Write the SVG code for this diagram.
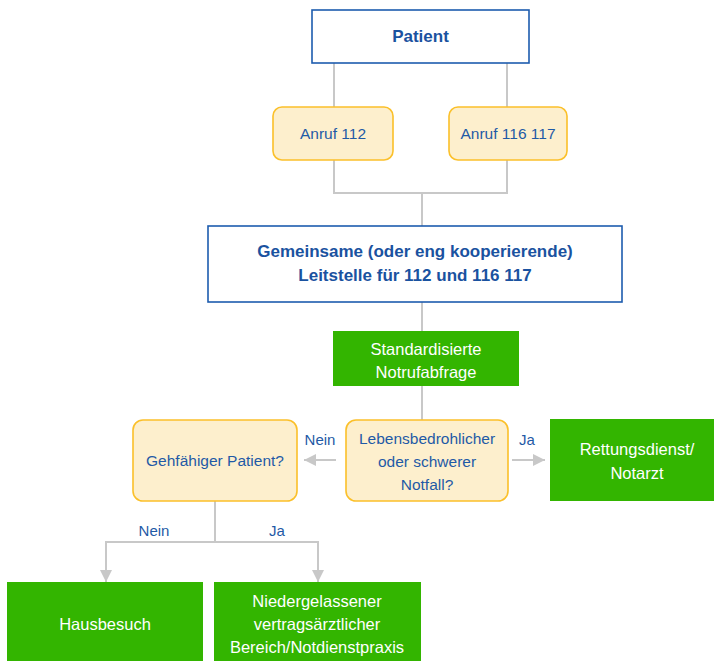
<svg xmlns="http://www.w3.org/2000/svg" width="714" height="661" viewBox="0 0 714 661">
<defs>
<style>
text{font-family:"Liberation Sans",Arial,sans-serif;text-anchor:middle}
.blue{fill:#fff;stroke:#1d5cae;stroke-width:1.6}
.bt{fill:#1a52a0;font-size:17px;font-weight:bold}
.q{fill:#fdefcd;stroke:#fbc02a;stroke-width:1.6}
.qt{fill:#1f5aa6;font-size:15.5px}
.g{fill:#33b500}
.gt{fill:#fff;font-size:16.5px}
.lbl{fill:#1f5aa6;font-size:15px}
.c{fill:none;stroke:#c8c8c8;stroke-width:2}
</style>
<marker id="ah" viewBox="0 0 10 10" refX="10" refY="5" markerWidth="6" markerHeight="6" markerUnits="strokeWidth" orient="auto">
<path d="M0,0 L10,5 L0,10 z" fill="#c8c8c8"/>
</marker>
</defs>
<rect width="714" height="661" fill="#fff"/>
<g id="connectors">
<path class="c" d="M334,63 V107 M507,63 V107"/>
<path class="c" d="M334,160 V193 H507 V160 M422,193 V227"/>
<path class="c" d="M422,302 V331 M422,386 V420"/>
<path class="c" d="M336,460 H304" marker-end="url(#ah)"/>
<path class="c" d="M512,460 H545" marker-end="url(#ah)"/>
<path class="c" d="M215,501 V542 H106 V582" marker-end="url(#ah)"/>
<path class="c" d="M215,542 H318 V582" marker-end="url(#ah)"/>
<text class="lbl" x="320" y="445">Nein</text>
<text class="lbl" x="527" y="445">Ja</text>
<text class="lbl" x="154" y="536">Nein</text>
<text class="lbl" x="277" y="536">Ja</text>
</g>
<g id="patient">
<rect class="blue" x="312" y="10" width="217" height="53"/>
<text class="bt" x="420.5" y="42">Patient</text>
</g>
<g id="anruf112">
<rect class="q" x="273" y="107" width="120" height="53" rx="9"/>
<text class="qt" x="333" y="139">Anruf 112</text>
</g>
<g id="anruf116117">
<rect class="q" x="449" y="107" width="118" height="53" rx="9"/>
<text class="qt" x="508" y="139">Anruf 116 117</text>
</g>
<g id="leitstelle">
<rect class="blue" x="208" y="226" width="414" height="76"/>
<text class="bt" x="415" y="257">Gemeinsame (oder eng kooperierende)</text>
<text class="bt" x="415" y="281">Leitstelle für 112 und 116 117</text>
</g>
<g id="notrufabfrage">
<rect class="g" x="333" y="331" width="186" height="55"/>
<text class="gt" x="426" y="355">Standardisierte</text>
<text class="gt" x="426" y="378">Notrufabfrage</text>
</g>
<g id="lebensbedrohlich">
<rect class="q" x="346" y="420" width="162" height="81" rx="10"/>
<text class="qt" x="427" y="444">Lebensbedrohlicher</text>
<text class="qt" x="427" y="467">oder schwerer</text>
<text class="qt" x="427" y="490">Notfall?</text>
</g>
<g id="gehfaehig">
<rect class="q" x="133" y="420" width="164" height="81" rx="10"/>
<text class="qt" x="215" y="466">Gehfähiger Patient?</text>
</g>
<g id="rettungsdienst">
<rect class="g" x="550" y="419" width="164" height="82"/>
<text class="gt" x="637" y="455">Rettungsdienst/</text>
<text class="gt" x="637" y="479">Notarzt</text>
</g>
<g id="hausbesuch">
<rect class="g" x="7" y="582" width="196" height="79"/>
<text class="gt" x="105" y="630">Hausbesuch</text>
</g>
<g id="niedergelassen">
<rect class="g" x="214" y="582" width="207" height="79"/>
<text class="gt" x="317" y="607">Niedergelassener</text>
<text class="gt" x="317" y="630">vertragsärztlicher</text>
<text class="gt" x="317" y="653">Bereich/Notdienstpraxis</text>
</g>
</svg>
